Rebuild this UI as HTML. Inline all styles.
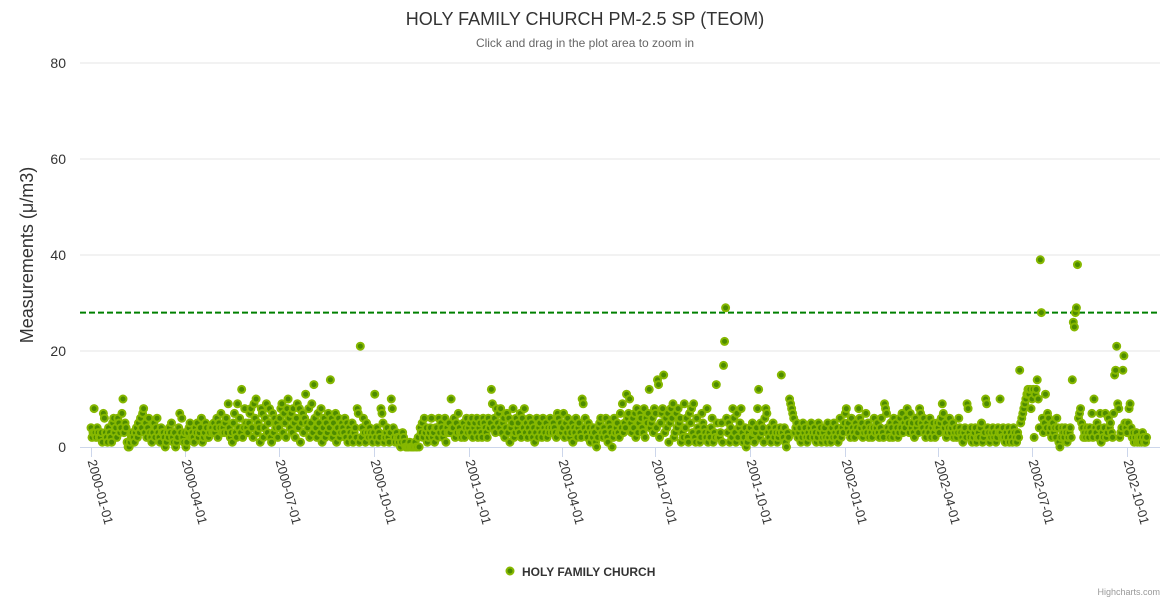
<!DOCTYPE html>
<html><head><meta charset="utf-8"><style>
body{margin:0;background:#fff;font-family:"Liberation Sans",sans-serif}
svg text{font-family:"Liberation Sans","DejaVu Sans",sans-serif}
</style></head><body>
<svg id="chart" width="1170" height="600" xmlns="http://www.w3.org/2000/svg">
<rect width="1170" height="600" fill="#fff"/>
<text x="585" y="25" text-anchor="middle" font-size="18" fill="#333">HOLY FAMILY CHURCH PM-2.5 SP (TEOM)</text>
<text x="585" y="47" text-anchor="middle" font-size="12" fill="#666">Click and drag in the plot area to zoom in</text>
<text transform="translate(33,255) rotate(-90)" text-anchor="middle" font-size="18" fill="#333">Measurements (μ/m3)</text>
<g id="grid"></g>
<g id="xaxis"></g>
<g id="plot"></g>
<g>
<circle cx="510" cy="571" r="3.5" fill="#4d8b00" stroke="#86b800" stroke-width="2"/>
<text x="522" y="576" font-size="12" font-weight="bold" fill="#333">HOLY FAMILY CHURCH</text>
</g>
<text x="1160" y="595" text-anchor="end" font-size="9" fill="#999">Highcharts.com</text>
</svg>
<script>
const yTicks=[0,20,40,60,80];
const thresholdValue=28;
const xTickLabels=["2000-01-01","2000-04-01","2000-07-01","2000-10-01","2001-01-01","2001-04-01","2001-07-01","2001-10-01","2002-01-01","2002-04-01","2002-07-01","2002-10-01"];
const monthStarts=["2000-01-01","2000-02-01","2000-03-01","2000-04-01","2000-05-01","2000-06-01","2000-07-01","2000-08-01","2000-09-01","2000-10-01","2000-11-01","2000-12-01","2001-01-01","2001-02-01","2001-03-01","2001-04-01","2001-05-01","2001-06-01","2001-07-01","2001-08-01","2001-09-01","2001-10-01","2001-11-01","2001-12-01","2002-01-01","2002-02-01","2002-03-01","2002-04-01","2002-05-01","2002-06-01","2002-07-01","2002-08-01","2002-09-01","2002-10-01"];
const monthlyValues=[
"4 2 3 8 3 2 4 3 2 2 3 1 7 6 3 2 1 4 3 2 1 5 6 3 4 2 6 5 3 4 7",
"10 3 5 4 1 0 0 1 2 3 2 1 3 4 2 5 3 6 4 7 8 3 5 2 4 6 3 2 1",
"3 5 2 4 6 3 2 1 4 3 3 2 0 1 3 2 4 3 5 2 1 3 0 1 2 4 7 3 6 2 1",
"3 0 1 3 4 5 2 3 2 1 4 3 5 2 3 4 6 1 2 3 5 4 2 2 3 4 4 3 5 3",
"4 6 2 5 4 7 3 4 3 5 6 3 9 4 2 3 1 5 7 3 2 9 4 6 3 12 2 4 8 5 4",
"3 5 7 8 4 2 9 6 10 3 5 4 1 8 7 2 4 6 9 3 5 8 2 1 7 3 6 4 5 2",
"4 6 8 9 3 7 5 2 8 10 6 4 7 3 8 5 2 6 9 4 8 1 5 7 3 6 11 5 4 8 2",
"5 9 3 13 6 4 2 7 5 3 8 1 4 6 2 5 3 7 4 14 6 2 5 3 7 1 4 6 2 3 5",
"4 3 6 2 5 1 4 3 2 5 1 3 4 2 8 7 1 21 2 4 6 3 1 5 3 2 4 3 2 1",
"3 11 2 4 1 3 2 8 7 5 1 2 3 4 2 1 3 10 8 4 2 1 3 2 1 2 0 1 3 2 1",
"0 0 0 0 1 0 0 0 0 1 0 0 2 0 4 3 5 2 6 3 4 1 2 3 4 6 2 3 1 4",
"4 2 6 3 5 4 2 3 6 1 4 3 5 3 10 4 4 6 2 5 3 7 4 3 2 3 5 2 4 6 3",
"4 5 3 6 2 4 5 3 6 2 4 5 3 2 6 5 4 3 2 6 4 5 12 9 4 6 3 8 5 7 4",
"8 3 5 6 2 4 7 3 6 1 4 5 8 2 3 6 4 5 3 7 2 6 4 8 3 5 2 4",
"6 3 5 2 4 1 3 6 2 4 5 3 2 6 4 3 5 2 4 3 6 4 3 5 4 3 2 7 6 3 5",
"3 4 7 2 5 3 6 4 2 3 5 1 4 3 6 2 4 5 3 2 10 9 4 6 3 2 5 4 1 3",
"2 4 3 1 0 2 4 5 6 3 2 4 3 6 2 1 5 4 3 0 2 6 3 4 5 3 2 7 4 9 3",
"5 4 11 6 7 10 5 3 6 4 7 2 8 3 5 7 6 4 3 8 2 6 5 7 12 4 5 6 3 8",
"7 4 14 13 2 5 7 8 15 3 6 4 7 1 5 8 6 9 2 3 7 4 8 5 6 1 3 2 9 4 6",
"2 1 7 5 8 3 9 2 1 6 4 3 1 2 7 5 4 3 2 8 1 3 2 4 6 1 3 2 13 5 2",
"2 3 5 1 17 22 29 6 3 5 1 4 2 8 6 3 1 7 2 4 5 8 3 1 2 4 0 1 3 2",
"4 2 5 3 1 3 4 8 12 2 5 3 4 1 6 8 7 3 2 4 1 3 5 2 4 3 1 2 3 4 15",
"3 2 4 1 0 3 2 10 9 8 7 6 3 4 5 2 3 4 1 2 5 3 4 2 1 3 2 4 5 3",
"2 4 3 1 2 5 3 4 1 2 3 4 2 1 5 2 3 1 4 2 5 3 2 4 1 3 6 2 4 3 5",
"7 8 4 5 3 2 6 4 3 2 5 4 3 8 6 4 5 2 3 4 7 3 5 2 4 3 2 4 6 3 4",
"5 3 2 4 6 3 2 9 8 7 4 3 2 5 4 2 6 3 5 4 2 3 6 4 7 3 5 4",
"6 8 5 3 7 4 5 3 2 6 4 5 3 8 7 5 4 6 3 2 5 4 3 6 2 4 5 3 2 4 5",
"4 3 5 6 9 7 4 5 2 3 4 6 3 4 5 2 3 4 2 3 6 4 3 2 1 3 4 2 9 8",
"3 2 4 1 2 3 4 1 2 3 2 4 5 1 2 3 10 9 4 3 1 2 3 4 2 3 1 2 4 3 10",
"3 2 4 2 1 3 2 4 1 3 2 1 4 3 2 1 3 2 16 5 6 7 8 9 10 11 12 11 12 8",
"10 12 2 11 12 14 10 4 39 28 6 3 5 11 4 7 6 3 4 2 5 3 4 2 6 4 1 0 2 4 3",
"2 4 3 1 2 3 4 2 14 26 25 28 29 38 6 7 8 5 4 2 3 2 4 3 2 4 3 7 2 10 4",
"3 5 2 4 7 1 3 2 4 7 2 3 6 4 5 3 2 7 15 16 21 9 8 2 3 4 16 19 5 4",
"3 5 8 9 4 2 3 1 2 3 1 2 1 2 1 3 2 1 1 2"
];
const NS="http://www.w3.org/2000/svg";
const DAY=86400000;
const t0=Date.UTC(2000,0,1), t1=Date.UTC(2002,9,1);
function xScale(t){return 91+(t-t0)/(t1-t0)*(1127-91);}
function yScale(v){return 447-v*(447-63)/80;}
function parse(s){const p=s.split("-");return Date.UTC(+p[0],+p[1]-1,+p[2]);}
function mk(tag,attrs,parent){const e=document.createElementNS(NS,tag);for(const k in attrs)e.setAttribute(k,attrs[k]);parent.appendChild(e);return e;}
const grid=document.getElementById("grid"),xaxis=document.getElementById("xaxis"),plot=document.getElementById("plot");
yTicks.forEach(v=>{
 const y=yScale(v);
 if(v>0){const l=mk("line",{x1:80,x2:1160,y1:y,y2:y,stroke:"#e6e6e6","stroke-width":1},grid);
 
 }
 const t=mk("text",{x:66,y:y+5,"text-anchor":"end","font-size":14,fill:"#333"},grid);
 t.textContent=v;
 
 
});
const ax=mk("line",{x1:80,x2:1160,y1:447.5,y2:447.5,stroke:"#ccd6eb","stroke-width":1},xaxis);


xTickLabels.forEach(s=>{
 const x=Math.round(xScale(parse(s)))+0.5;
 const tk=mk("line",{x1:x,x2:x,y1:447,y2:457,stroke:"#ccd6eb","stroke-width":1},xaxis);
 
 
 const t=mk("text",{transform:`translate(${x-4},${461}) rotate(75)`,"font-size":13,fill:"#333"},xaxis);
 t.textContent=s;
 
 
});
const th=mk("line",{x1:80,x2:1160,y1:yScale(thresholdValue),y2:yScale(thresholdValue),stroke:"#008000","stroke-width":2,"stroke-dasharray":"6,3"},plot);


monthStarts.forEach((ms,mi)=>{
 const base=parse(ms);
 monthlyValues[mi].trim().split(/\s+/).map(Number).forEach((v,i)=>{
  const c=mk("circle",{cx:xScale(base+i*DAY),cy:yScale(v),r:3.5,fill:"#4d8b00",stroke:"#86b800","stroke-width":2},plot);
  
  
 });
});
</script>
</body></html>
